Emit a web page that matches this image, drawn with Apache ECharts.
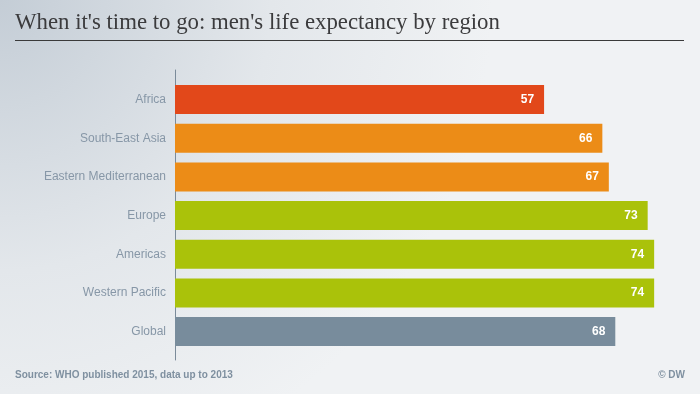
<!DOCTYPE html>
<html>
<head>
<meta charset="utf-8">
<script src="https://cdn.jsdelivr.net/npm/echarts@6/dist/echarts.min.js"></script>
<style>
html,body{margin:0;padding:0;}
#chart{width:700px;height:394px;}
</style>
</head>
<body>
<div id="chart"></div>
<script>
const categories = ['Africa', 'South-East Asia', 'Eastern Mediterranean', 'Europe', 'Americas', 'Western Pacific', 'Global'];
const values = [57, 66, 67, 73, 74, 74, 68];
const barColors = ['#e2481a', '#ec8c17', '#ec8c17', '#aac20a', '#aac20a', '#aac20a', '#788c9c'];
const titleText = "When it's time to go: men's life expectancy by region";
const sourceText = 'Source: WHO published 2015, data up to 2013';
const creditText = '© DW';

const chart = echarts.init(document.getElementById('chart'));
chart.setOption({
  animation: false,
  backgroundColor: {
    type: 'radial', x: 0, y: 0, r: 1.25,
    colorStops: [
      { offset: 0, color: '#c4cdd6' },
      { offset: 0.55, color: '#e3e7eb' },
      { offset: 1, color: '#f0f2f4' }
    ]
  },
  title: [
    {
      text: titleText, left: 15, top: 12, padding: 0,
      textStyle: { fontFamily: 'Liberation Serif', fontSize: 22.8, fontWeight: 'normal', color: '#3b3b3d' }
    },
    {
      text: sourceText, left: 15, top: 370, padding: 0,
      textStyle: { fontFamily: 'Liberation Sans', fontSize: 10, fontWeight: 'bold', color: '#7f90a0' }
    },
    {
      text: creditText, right: 15, top: 370, padding: 0,
      textStyle: { fontFamily: 'Liberation Sans', fontSize: 10, fontWeight: 'bold', color: '#7f90a0' }
    }
  ],
  graphic: [
    { type: 'line', shape: { x1: 15, y1: 40.5, x2: 684, y2: 40.5 }, style: { stroke: '#3a3a3a', lineWidth: 1.2 }, silent: true }
  ],
  grid: [
    { left: 175, top: 80.2, width: 518, height: 270.7 },
    { left: 175, top: 70, width: 518, height: 290 }
  ],
  xAxis: [
    { type: 'value', gridIndex: 0, min: 0, max: 80, show: false },
    { type: 'value', gridIndex: 1, min: 0, max: 80, show: false }
  ],
  yAxis: [
    {
      type: 'category', gridIndex: 0, data: categories, inverse: true,
      axisLine: { show: false }, axisTick: { show: false },
      axisLabel: { margin: 9, fontFamily: 'Liberation Sans', fontSize: 12, color: '#8797a7' }
    },
    {
      type: 'value', gridIndex: 1, min: 0, max: 1,
      axisLine: { show: true, lineStyle: { color: '#7b8b9a', width: 1 } },
      axisTick: { show: false }, axisLabel: { show: false }, splitLine: { show: false }
    }
  ],
  series: [
    {
      type: 'bar', xAxisIndex: 0, yAxisIndex: 0,
      data: values.map((v, i) => ({ value: v, itemStyle: { color: barColors[i] } })),
      barWidth: 29,
      label: {
        show: true, position: 'insideRight', distance: 10,
        fontFamily: 'Liberation Sans', fontSize: 12, fontWeight: 'bold', color: '#ffffff'
      }
    }
  ]
});
</script>
</body>
</html>
